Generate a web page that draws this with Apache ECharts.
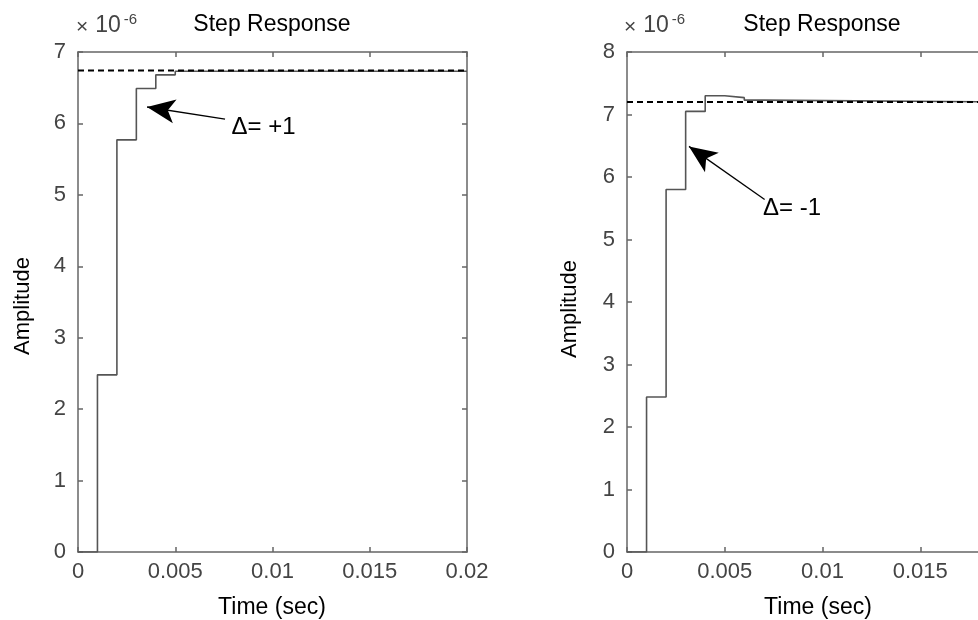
<!DOCTYPE html>
<html>
<head>
<meta charset="utf-8">
<script src="https://cdn.jsdelivr.net/npm/echarts@6/dist/echarts.min.js"></script>
<style>
  html, body { margin: 0; padding: 0; background: #fff; }
  #chart { width: 978px; height: 620px; }
</style>
</head>
<body>
<div id="chart"></div>
<script>
// values in units of 1e-6 (as on the axes)
var leftTime = [0, 0.001, 0.002, 0.003, 0.004, 0.005, 0.02];
var leftAmp = [0, 2.48, 5.77, 6.49, 6.68, 6.73, 6.73];
var leftFinal = 6.74;
var rightTime = [0, 0.001, 0.002, 0.003, 0.004, 0.005, 0.006, 0.007, 0.02];
var rightAmp = [0, 2.48, 5.8, 7.05, 7.3, 7.27, 7.23, 7.2, 7.2];
var rightFinal = 7.2;
var timeRange = [0, 0.02];

// annotations: [tail, tip], text anchor
var leftArrow = [[0.00756, 6.06], [0.00355, 6.23]];
var leftNote = { pos: [0.00787, 5.94], text: 'Δ= +1' };
var rightArrow = [[0.00704, 5.64], [0.00317, 6.49]];
var rightNote = { pos: [0.00693, 5.50], text: 'Δ= -1' };

var font = 'Liberation Sans, Arial, sans-serif';
var axisColor = '#666';

function zip(xs, ys) {
    var out = [];
    for (var i = 0; i < xs.length; i++) out.push([xs[i], ys[i]]);
    return out;
}

function makeAxes(gi, ymax) {
    var line = { show: true, onZero: false, lineStyle: { color: axisColor, width: 1.5 } };
    var tick = { show: true, inside: true, length: 5, lineStyle: { color: axisColor, width: 1.5 } };
    return {
        x: [
            { type: 'value', gridIndex: gi, min: timeRange[0], max: timeRange[1], interval: 0.005,
              axisLine: line, axisTick: tick, splitLine: { show: false },
              axisLabel: { color: '#444', fontSize: 22, fontFamily: font, margin: 9 } },
            { type: 'value', gridIndex: gi, position: 'top', min: timeRange[0], max: timeRange[1], interval: 0.005,
              axisLine: line, axisTick: tick, splitLine: { show: false }, axisLabel: { show: false } }
        ],
        y: [
            { type: 'value', gridIndex: gi, min: 0, max: ymax, interval: 1,
              axisLine: line, axisTick: tick, splitLine: { show: false },
              axisLabel: { color: '#444', fontSize: 22, fontFamily: font, margin: 12 } },
            { type: 'value', gridIndex: gi, position: 'right', min: 0, max: ymax, interval: 1,
              axisLine: line, axisTick: tick, splitLine: { show: false }, axisLabel: { show: false } }
        ]
    };
}

var axL = makeAxes(0, 7);
var axR = makeAxes(1, 8);

function stepSeries(idx, xs, ys, arrow, note) {
    return {
        type: 'line', xAxisIndex: idx * 2, yAxisIndex: idx * 2,
        data: zip(xs, ys), step: 'end', showSymbol: false, z: 3,
        lineStyle: { color: '#555', width: 1.6 },
        markLine: {
            silent: true, animation: false,
            lineStyle: { color: '#000', width: 1.3, type: 'solid' },
            label: { show: false },
            data: [[
                { coord: arrow[0], symbol: 'none' },
                { coord: arrow[1], symbol: 'arrow', symbolSize: [18, 28] }
            ]]
        },
        markPoint: {
            silent: true, animation: false,
            symbol: 'circle', symbolSize: 1,
            itemStyle: { color: 'rgba(0,0,0,0)' },
            label: { show: true, position: 'right', distance: 0, color: '#000',
                     fontSize: 24, fontFamily: font, formatter: note.text },
            data: [{ coord: note.pos }]
        }
    };
}

function finalSeries(idx, value) {
    return {
        type: 'line', xAxisIndex: idx * 2, yAxisIndex: idx * 2,
        data: [[timeRange[0], value], [timeRange[1], value]],
        showSymbol: false, z: 4,
        lineStyle: { color: '#000', width: 2, type: [6, 4] }
    };
}

function label(x, y, text, size, rot) {
    return {
        type: 'text', x: x, y: y, rotation: rot || 0,
        style: { text: text, fill: '#000', fontSize: size, fontFamily: font,
                 textAlign: 'center', textVerticalAlign: 'middle' }
    };
}

function scaleNote(x) {
    return {
        type: 'text', x: x, y: 12,
        style: {
            text: '{a|×}{b|10}{c|-6}', fill: '#444', fontFamily: font,
            rich: {
                a: { fontSize: 21, fontFamily: font, fill: '#444', padding: [4, 0, 0, 0] },
                b: { fontSize: 23, fontFamily: font, fill: '#444', padding: [0, 0, 0, 7] },
                c: { fontSize: 15, fontFamily: font, fill: '#444', verticalAlign: 'top', padding: [0, 0, 12, 3] }
            }
        }
    };
}

var chart = echarts.init(document.getElementById('chart'));
chart.setOption({
    animation: false,
    backgroundColor: '#fff',
    grid: [
        { left: 78, top: 52, width: 389, height: 500, outerBoundsMode: 'none' },
        { left: 627, top: 52, width: 391, height: 500, outerBoundsMode: 'none' }
    ],
    xAxis: axL.x.concat(axR.x),
    yAxis: axL.y.concat(axR.y),
    series: [
        stepSeries(0, leftTime, leftAmp, leftArrow, leftNote),
        finalSeries(0, leftFinal),
        stepSeries(1, rightTime, rightAmp, rightArrow, rightNote),
        finalSeries(1, rightFinal)
    ],
    graphic: [
        label(272, 25, 'Step Response', 23),
        label(822, 25, 'Step Response', 23),
        label(23, 306, 'Amplitude', 22, Math.PI / 2),
        label(570, 309, 'Amplitude', 22, Math.PI / 2),
        label(272, 608, 'Time (sec)', 23),
        label(818, 608, 'Time (sec)', 23),
        scaleNote(76),
        scaleNote(624)
    ]
});
</script>
</body>
</html>
